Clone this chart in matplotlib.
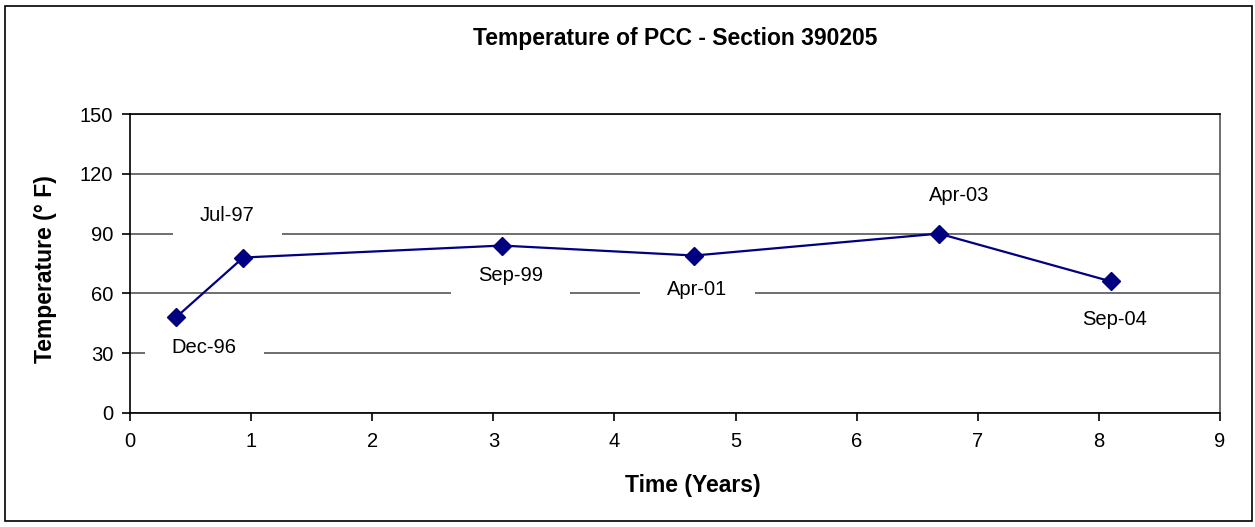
import matplotlib.pyplot as plt
from matplotlib.patches import Rectangle
from matplotlib.path import Path

plt.rcParams['font.family'] = ['Liberation Sans', 'DejaVu Sans']

# data
years = [0.38, 0.935, 3.07, 4.66, 6.68, 8.10]
temps = [48, 78, 84, 79, 90, 66]
labels = ['Dec-96', 'Jul-97', 'Sep-99', 'Apr-01', 'Apr-03', 'Sep-04']
# label offsets from the points (pixels)
label_offsets = [(28, -30), (-16, 42), (9, -30), (3, -34), (20, 38), (4, -38)]


def label_box(x0, y0, width, height, mutation_size):
    # white box, wider than the text and reaching further down than up
    left, right = x0 - 27, x0 + width + 27
    bottom, top = y0 - 12, y0 + height + 5
    return Path([(left, bottom), (right, bottom), (right, top), (left, top),
                 (left, bottom)], closed=True)


fig = plt.figure(figsize=(12.55, 5.27), dpi=100)
ax = fig.add_axes([130 / 1255, 1 - 413 / 527, 1090 / 1255, 299 / 527])

ax.set_xlim(0, 9)
ax.set_ylim(0, 150)
ax.set_xticks(range(0, 10))
ax.set_yticks(range(0, 151, 30))
ax.yaxis.grid(True, color='#555555', linewidth=1.2)
ax.set_axisbelow(True)
for s in ax.spines.values():
    s.set_color('black')
    s.set_linewidth(1.2)
ax.spines['right'].set_color('#555555')
ax.tick_params(direction='out', length=6, width=1.2, labelsize=14.5, colors='black')
ax.tick_params(axis='x', pad=8)
ax.tick_params(axis='y', pad=6)

ax.plot(years, temps, color='#000080', linewidth=1.6, marker='D',
        markersize=8.7, markerfacecolor='#000080', markeredgecolor='#000080',
        zorder=5)

for x, y, lab, off in zip(years, temps, labels, label_offsets):
    ax.annotate(lab, (x, y), xytext=off, textcoords='offset pixels',
                ha='center', va='center', fontsize=14.5, zorder=3,
                bbox=dict(boxstyle=label_box, facecolor='white', edgecolor='none'))

ax.set_xlabel('Time (Years)', fontsize=16.5, fontweight='bold')
ax.xaxis.set_label_coords((693 - 130) / 1090, -(474 - 413) / 299)
ax.set_ylabel('Temperature (° F)', fontsize=16.5, fontweight='bold')
ax.yaxis.set_label_coords(-(130 - 57) / 1090, (413 - 269) / 299)

fig.text(675 / 1255, 1 - 38 / 527, 'Temperature of PCC - Section 390205',
         ha='center', va='center', fontsize=16.5, fontweight='bold')

fig.patches.append(Rectangle((5 / 1255, 1 - 521 / 527), 1247 / 1255, 515 / 527,
                             transform=fig.transFigure, fill=False,
                             edgecolor='black', linewidth=1.2))

fig.savefig('out.png', dpi=100)
